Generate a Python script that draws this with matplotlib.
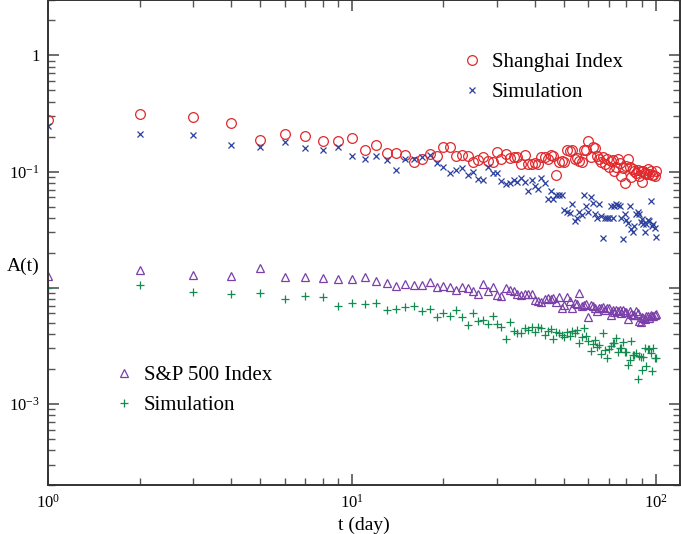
import numpy as np
import matplotlib
matplotlib.use('Agg')
import matplotlib.pyplot as plt
from matplotlib.ticker import FixedLocator, FixedFormatter, LogLocator, NullFormatter

# t = 1 .. 100 days
t = np.arange(1, 101)

shanghai = [0.280, 0.315, 0.293, 0.264, 0.186, 0.212, 0.203, 0.185, 0.182, 0.194,
            0.154, 0.168, 0.145, 0.145, 0.138, 0.121, 0.128, 0.142, 0.135, 0.163,
            0.162, 0.137, 0.138, 0.137, 0.120, 0.126, 0.134, 0.124, 0.122, 0.146,
            0.129, 0.143, 0.130, 0.134, 0.134, 0.116, 0.140, 0.115, 0.117, 0.119,
            0.115, 0.134, 0.134, 0.127, 0.140, 0.135, 0.093, 0.120, 0.123, 0.120,
            0.154, 0.150, 0.154, 0.127, 0.131, 0.123, 0.121, 0.153, 0.154, 0.184,
            0.133, 0.162, 0.160, 0.137, 0.127, 0.120, 0.134, 0.115, 0.128, 0.110,
            0.123, 0.125, 0.101, 0.110, 0.129, 0.118, 0.091, 0.108, 0.080, 0.111,
            0.129, 0.110, 0.090, 0.106, 0.101, 0.098, 0.103, 0.091, 0.101, 0.082,
            0.101, 0.097, 0.096, 0.105, 0.096, 0.101, 0.094, 0.093, 0.092, 0.101]

sim_shanghai = [0.245, 0.212, 0.207, 0.170, 0.162, 0.180, 0.160, 0.153, 0.163, 0.137,
                0.127, 0.136, 0.125, 0.104, 0.127, 0.129, 0.133, 0.138, 0.119, 0.110,
                0.0975, 0.104, 0.108, 0.094, 0.100, 0.087, 0.085, 0.109, 0.0975, 0.0974,
                0.0826, 0.0783, 0.0804, 0.0842, 0.0815, 0.0882, 0.0815, 0.0686, 0.0853, 0.0748,
                0.0709, 0.0882, 0.0799, 0.0586, 0.0677, 0.0586, 0.0626, 0.0634, 0.0626, 0.0468,
                0.0450, 0.0441, 0.0527, 0.0374, 0.0399, 0.0450, 0.0421, 0.0626, 0.0503, 0.0450,
                0.0601, 0.0537, 0.0432, 0.0399, 0.0530, 0.0418, 0.0269, 0.0399, 0.0399, 0.0399,
                0.0506, 0.0399, 0.0510, 0.0527, 0.0520, 0.0503, 0.0399, 0.0263, 0.0427, 0.0386,
                0.0361, 0.0510, 0.0317, 0.0302, 0.0338, 0.0432, 0.0450, 0.0427, 0.0369, 0.0391,
                0.0350, 0.0300, 0.0350, 0.0386, 0.0374, 0.0563, 0.0338, 0.0350, 0.0327, 0.0272]

sp500 = [0.0125, 0.0141, 0.0129, 0.0126, 0.0147, 0.0124, 0.0124, 0.0120, 0.0119, 0.0119,
         0.0124, 0.0115, 0.0110, 0.0103, 0.0108, 0.0106, 0.0106, 0.0111, 0.0101, 0.0103,
         0.0102, 0.0095, 0.0101, 0.0100, 0.0094, 0.0088, 0.0107, 0.0094, 0.0101, 0.00865,
         0.00842, 0.0100, 0.00955, 0.00936, 0.00876, 0.00865, 0.00876, 0.00888, 0.00888, 0.00783,
         0.00768, 0.00758, 0.00799, 0.00810, 0.00799, 0.00810, 0.00758, 0.00837, 0.00664, 0.00709,
         0.00837, 0.00768, 0.00664, 0.00733, 0.00719, 0.00906, 0.00700, 0.00709, 0.00719, 0.00563,
         0.00709, 0.00700, 0.00664, 0.00630, 0.00673, 0.00673, 0.00686, 0.00642, 0.00673, 0.00664,
         0.00582, 0.00642, 0.00622, 0.00642, 0.00630, 0.00642, 0.00601, 0.00642, 0.00622, 0.00622,
         0.00538, 0.00630, 0.00590, 0.00582, 0.00582, 0.00630, 0.00601, 0.00517, 0.00503, 0.00563,
         0.00552, 0.00538, 0.00570, 0.00570, 0.00552, 0.00582, 0.00570, 0.00574, 0.00582, 0.00590]

sim_sp500 = [0.0100, 0.0105, 0.0091, 0.0089, 0.0090, 0.0080, 0.0084, 0.0083, 0.0070, 0.0074,
             0.0073, 0.0074, 0.0064, 0.0066, 0.0068, 0.0070, 0.0063, 0.0065, 0.0056, 0.0061,
             0.0057, 0.0064, 0.0056, 0.0048, 0.0060, 0.0052, 0.0053, 0.0049, 0.0057, 0.00487,
             0.00462, 0.00362, 0.00503, 0.00424, 0.00405, 0.00405, 0.00447, 0.00432, 0.00462, 0.00413,
             0.00462, 0.00447, 0.00392, 0.00424, 0.00441, 0.00362, 0.00418, 0.00405, 0.00392, 0.00379,
             0.00413, 0.00386, 0.00424, 0.00405, 0.00432, 0.00336, 0.00379, 0.00453, 0.00386, 0.00350,
             0.00285, 0.00325, 0.00354, 0.00311, 0.00321, 0.00267, 0.00410, 0.00291, 0.00246, 0.00297,
             0.00317, 0.00332, 0.00332, 0.00366, 0.00278, 0.00301, 0.00301, 0.00343, 0.00281, 0.00281,
             0.00216, 0.00238, 0.00350, 0.00263, 0.00263, 0.00272, 0.00165, 0.00258, 0.00255, 0.00197,
             0.00255, 0.00305, 0.00213, 0.00297, 0.00297, 0.00272, 0.00193, 0.00305, 0.00246, 0.00246]

x_ticks = [1, 10, 100]
x_labels = [r'$10^{0}$', r'$10^{1}$', r'$10^{2}$']
y_ticks = [1e-3, 1e-2, 1e-1, 1]
y_labels = [r'$10^{-3}$', '', r'$10^{-1}$', '1']

plt.rcParams['font.family'] = 'Liberation Serif'
plt.rcParams['mathtext.fontset'] = 'custom'
plt.rcParams['mathtext.rm'] = 'Liberation Serif'
plt.rcParams['mathtext.it'] = 'Liberation Serif:italic'

fig = plt.figure(figsize=(6.81, 5.34), dpi=100)
ax = fig.add_axes([48 / 681, 49 / 534, 632 / 681, 485 / 534])

red = '#e0282c'
blue = '#2b3f9e'
purple = '#7a3fa8'
green = '#138a4f'

h1, = ax.plot(t, shanghai, 'o', mfc='none', mec=red, ms=7, mew=0.9, label='Shanghai Index')
h2, = ax.plot(t, sim_shanghai, 'x', color=blue, ms=4.5, mew=0.9, label='Simulation')
h3, = ax.plot(t, sp500, '^', mfc='none', mec=purple, ms=5.5, mew=0.9, label='S&P 500 Index')
h4, = ax.plot(t, sim_sp500, '+', color=green, ms=6, mew=0.9, label='Simulation')

ax.set_xscale('log')
ax.set_yscale('log')
ax.set_xlim(1, 120)
ax.set_ylim(2e-4, 3.0)

ax.xaxis.set_major_locator(FixedLocator(x_ticks))
ax.xaxis.set_major_formatter(FixedFormatter(x_labels))
ax.yaxis.set_major_locator(FixedLocator(y_ticks))
ax.yaxis.set_major_formatter(FixedFormatter(y_labels))
ax.xaxis.set_minor_locator(LogLocator(base=10, subs=np.arange(2, 10)))
ax.yaxis.set_minor_locator(LogLocator(base=10, subs=np.arange(2, 10)))
ax.xaxis.set_minor_formatter(NullFormatter())
ax.yaxis.set_minor_formatter(NullFormatter())

for s in ax.spines.values():
    s.set_linewidth(1.4)
    s.set_color('#333333')
ax.tick_params(which='both', direction='in', top=True, right=True, color='#555555', labelsize=12, pad=6)
ax.tick_params(which='major', length=8, width=1.2)
ax.tick_params(which='minor', length=5, width=1.0)

ax.set_xlabel('t (day)', fontsize=14, labelpad=4)
ax.set_ylabel('A(t)', fontsize=14, rotation=0, labelpad=8)
ax.yaxis.set_label_coords(-0.04, 0.432)

leg1 = ax.legend([h1, h2], ['Shanghai Index', 'Simulation'], loc='upper left',
                 bbox_to_anchor=(0.654, 0.891), frameon=False, fontsize=15,
                 handlelength=1.0, handletextpad=0.45, labelspacing=0.5,
                 borderpad=0, borderaxespad=0)
ax.add_artist(leg1)
ax.legend([h3, h4], ['S&P 500 Index', 'Simulation'], loc='upper left',
          bbox_to_anchor=(0.104, 0.246), frameon=False, fontsize=15,
          handlelength=1.0, handletextpad=0.45, labelspacing=0.5,
          borderpad=0, borderaxespad=0)

fig.savefig('out.png', dpi=100)
